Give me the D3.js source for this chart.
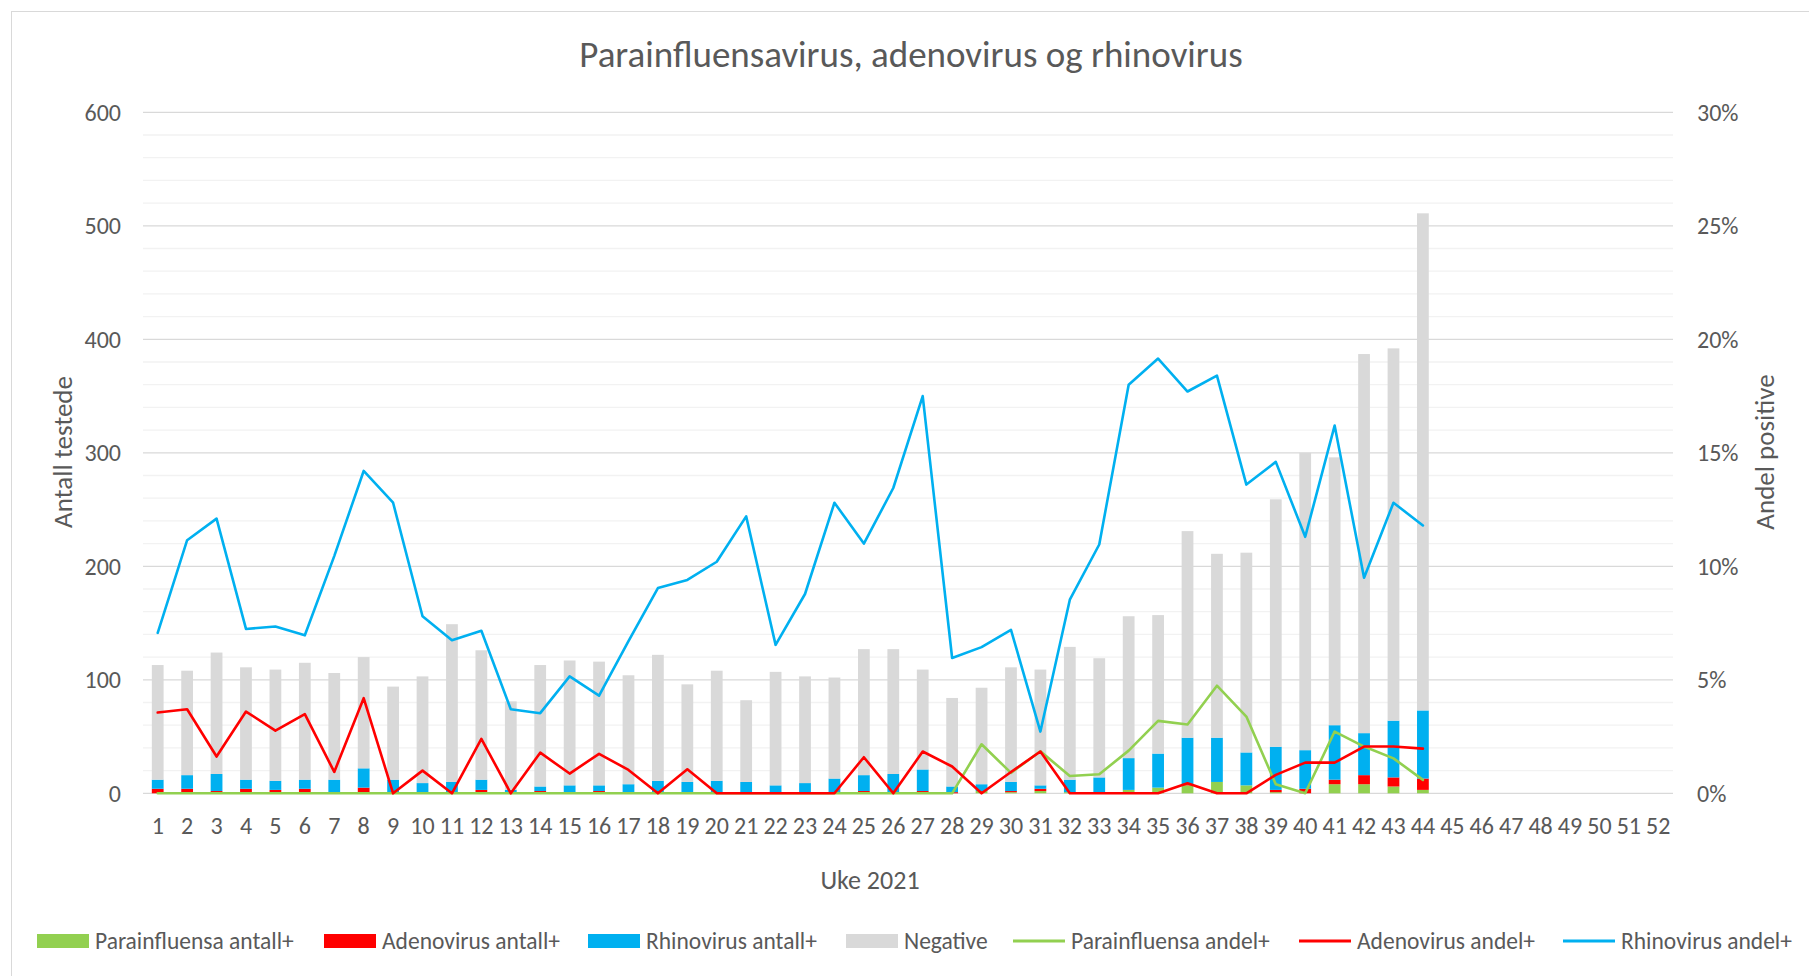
<!DOCTYPE html>
<html>

<head>
    <title>Parainfluensavirus, adenovirus og rhinovirus</title>
    <script src="https://d3js.org/d3.v7.min.js"></script>
    <style>
        body {
            margin: 0;
            padding: 0;
            background: #fff;
            overflow: hidden;
        }

        text {
            font-family: Carlito, Calibri, Lato, sans-serif;
            fill: #595959;
        }
    </style>
</head>

<body>
    <script>
        // uke 1-52, data for uke 1-44
        var weeks = d3.range(1, 53);
        var paraCount = [0, 0, 0, 0, 0, 0, 0, 0, 0, 0, 0, 0, 0, 0, 0, 0, 0, 0, 0, 0, 0, 0, 0, 0, 0, 0, 0, 0,
            2, 1, 2, 1, 1, 3, 5, 7, 10, 7, 1, 0, 8, 8, 6, 3];
        var adenoCount = [4, 4, 2, 4, 3, 4, 1, 5, 0, 1, 0, 3, 0, 2, 1, 2, 1, 0, 1, 0, 0, 0, 0, 0, 2, 0, 2, 1,
            0, 1, 2, 0, 0, 0, 0, 1, 0, 0, 2, 4, 4, 8, 8, 10];
        var rhinoCount = [8, 12, 15, 8, 8, 8, 11, 17, 12, 8, 10, 9, 3, 4, 6, 5, 7, 11, 9, 11, 10, 7, 9, 13, 14, 17, 19, 5,
            6, 8, 3, 11, 13, 28, 30, 41, 39, 29, 38, 34, 48, 37, 50, 60];
        var negative = [101, 92, 107, 99, 98, 103, 94, 98, 82, 94, 139, 114, 78, 107, 110, 109, 96, 111, 86, 97, 72, 100, 94, 89, 111, 110, 88, 78,
            85, 101, 102, 117, 105, 125, 122, 182, 162, 176, 218, 262, 236, 334, 328, 438];
        // andel positive, prosent
        var paraPct = [0, 0, 0, 0, 0, 0, 0, 0, 0, 0, 0, 0, 0, 0, 0, 0, 0, 0, 0, 0, 0, 0, 0, 0, 0, 0, 0, 0,
            2.16, 0.9, 1.85, 0.76, 0.84, 1.88, 3.19, 3.03, 4.74, 3.38, 0.4, 0, 2.72, 2.06, 1.54, 0.59];
        var adenoPct = [3.56, 3.7, 1.62, 3.6, 2.76, 3.49, 0.94, 4.19, 0, 1.0, 0, 2.4, 0, 1.79, 0.87, 1.74, 1.03, 0, 1.06, 0, 0, 0, 0, 0, 1.59, 0, 1.84, 1.18,
            0, 0.94, 1.84, 0, 0, 0, 0, 0.44, 0, 0, 0.81, 1.35, 1.35, 2.06, 2.06, 1.97];
        var rhinoPct = [7.07, 11.15, 12.1, 7.24, 7.35, 6.96, 10.45, 14.2, 12.8, 7.8, 6.74, 7.16, 3.7, 3.53, 5.15, 4.3, 6.7, 9.04, 9.4, 10.2, 12.2, 6.54, 8.78, 12.8, 11.0, 13.45, 17.5, 5.96,
            6.44, 7.2, 2.72, 8.53, 10.96, 18.0, 19.15, 17.7, 18.4, 13.6, 14.6, 11.3, 16.2, 9.5, 12.8, 11.8];
        var leftTicks = [0, 100, 200, 300, 400, 500, 600];
        var rightTicks = [0, 0.05, 0.10, 0.15, 0.20, 0.25, 0.30];

        var barKeys = ["para", "adeno", "rhino", "neg"];
        var barNames = ["Parainfluensa antall+", "Adenovirus antall+", "Rhinovirus antall+", "Negative"];
        var lineNames = ["Parainfluensa andel+", "Adenovirus andel+", "Rhinovirus andel+"];
        var colors = { para: "#92D050", adeno: "#FF0000", rhino: "#00B0F0", neg: "#D9D9D9" };

        var width = 1809, height = 976;
        var margin = { left: 143, right: 1673, top: 112.3, bottom: 793.3 };

        var svg = d3.select("body").append("svg")
            .attr("width", width)
            .attr("height", height);

        // ramme
        svg.append("rect")
            .attr("x", 11.5).attr("y", 11.5)
            .attr("width", width + 20).attr("height", height + 20)
            .attr("fill", "none").attr("stroke", "#d9d9d9").attr("stroke-width", 1);

        var x = d3.scaleBand()
            .domain(weeks)
            .range([margin.left, margin.right])
            .paddingInner(0.6)
            .paddingOuter(0.3);
        var y = d3.scaleLinear().domain([0, 600]).range([margin.bottom, margin.top]);
        var y2 = d3.scaleLinear().domain([0, 0.3]).range([margin.bottom, margin.top]);

        // hjelpelinjer
        svg.append("g").selectAll("line")
            .data(d3.range(20, 600, 20).filter(v => v % 100 !== 0))
            .join("line")
            .attr("x1", margin.left).attr("x2", margin.right)
            .attr("y1", d => y(d)).attr("y2", d => y(d))
            .attr("stroke", "#f2f2f2").attr("stroke-width", 1.3);
        svg.append("g").selectAll("line")
            .data(leftTicks)
            .join("line")
            .attr("x1", margin.left).attr("x2", margin.right)
            .attr("y1", d => y(d)).attr("y2", d => y(d))
            .attr("stroke", "#d9d9d9").attr("stroke-width", 1.3);

        // stablede søyler
        var rows = negative.map((n, i) => ({
            week: weeks[i], para: paraCount[i], adeno: adenoCount[i], rhino: rhinoCount[i], neg: n
        }));
        var stack = d3.stack().keys(barKeys)(rows);
        svg.append("g").selectAll("g")
            .data(stack)
            .join("g")
            .attr("fill", d => colors[d.key])
            .selectAll("rect")
            .data(d => d)
            .join("rect")
            .attr("x", d => x(d.data.week))
            .attr("width", x.bandwidth())
            .attr("y", d => y(d[1]))
            .attr("height", d => y(d[0]) - y(d[1]));

        // andel-linjer
        var line = d3.line()
            .x((d, i) => x(weeks[i]) + x.bandwidth() / 2)
            .y(d => y2(d / 100));
        [["para", paraPct], ["adeno", adenoPct], ["rhino", rhinoPct]].forEach(s => {
            svg.append("path")
                .datum(s[1])
                .attr("d", line)
                .attr("fill", "none")
                .attr("stroke", colors[s[0]])
                .attr("stroke-width", 2.6)
                .attr("stroke-linejoin", "round")
                .attr("stroke-linecap", "round");
        });

        // akser
        svg.append("g").selectAll("text")
            .data(leftTicks)
            .join("text")
            .attr("x", 121).attr("y", d => y(d))
            .attr("dy", "0.35em")
            .attr("text-anchor", "end")
            .style("font-size", "24px")
            .text(d => d);
        svg.append("g").selectAll("text")
            .data(rightTicks)
            .join("text")
            .attr("x", 1697).attr("y", d => y2(d))
            .attr("dy", "0.35em")
            .style("font-size", "24px")
            .text(d3.format(".0%"));
        svg.append("g").selectAll("text")
            .data(weeks)
            .join("text")
            .attr("x", d => x(d) + x.bandwidth() / 2)
            .attr("y", 834)
            .attr("text-anchor", "middle")
            .style("font-size", "24px")
            .text(d => d);

        svg.append("text")
            .attr("x", 911).attr("y", 67)
            .attr("text-anchor", "middle")
            .style("font-size", "37px")
            .text("Parainfluensavirus, adenovirus og rhinovirus");
        svg.append("text")
            .attr("transform", "translate(72,452) rotate(-90)")
            .attr("text-anchor", "middle")
            .style("font-size", "27px")
            .text("Antall testede");
        svg.append("text")
            .attr("transform", "translate(1774,452) rotate(-90)")
            .attr("text-anchor", "middle")
            .style("font-size", "27px")
            .text("Andel positive");
        svg.append("text")
            .attr("x", 870).attr("y", 889)
            .attr("text-anchor", "middle")
            .style("font-size", "26px")
            .text("Uke 2021");

        // tegnforklaring
        var legendX = [37, 324, 588, 846, 1013, 1299, 1563];
        var legendItems = barKeys.map((k, i) => ({ key: k, name: barNames[i], type: "bar" }))
            .concat(["para", "adeno", "rhino"].map((k, i) => ({ key: k, name: lineNames[i], type: "line" })));
        var lg = svg.append("g").selectAll("g")
            .data(legendItems)
            .join("g")
            .attr("transform", (d, i) => "translate(" + legendX[i] + ",941)");
        lg.filter(d => d.type === "bar").append("rect")
            .attr("x", 0).attr("y", -7).attr("width", 52).attr("height", 14)
            .attr("fill", d => colors[d.key]);
        lg.filter(d => d.type === "line").append("line")
            .attr("x1", 0).attr("x2", 52)
            .attr("stroke", d => colors[d.key]).attr("stroke-width", 3);
        lg.append("text")
            .attr("x", 58).attr("dy", "0.35em")
            .style("font-size", "23.5px")
            .text(d => d.name);
    </script>
</body>

</html>
